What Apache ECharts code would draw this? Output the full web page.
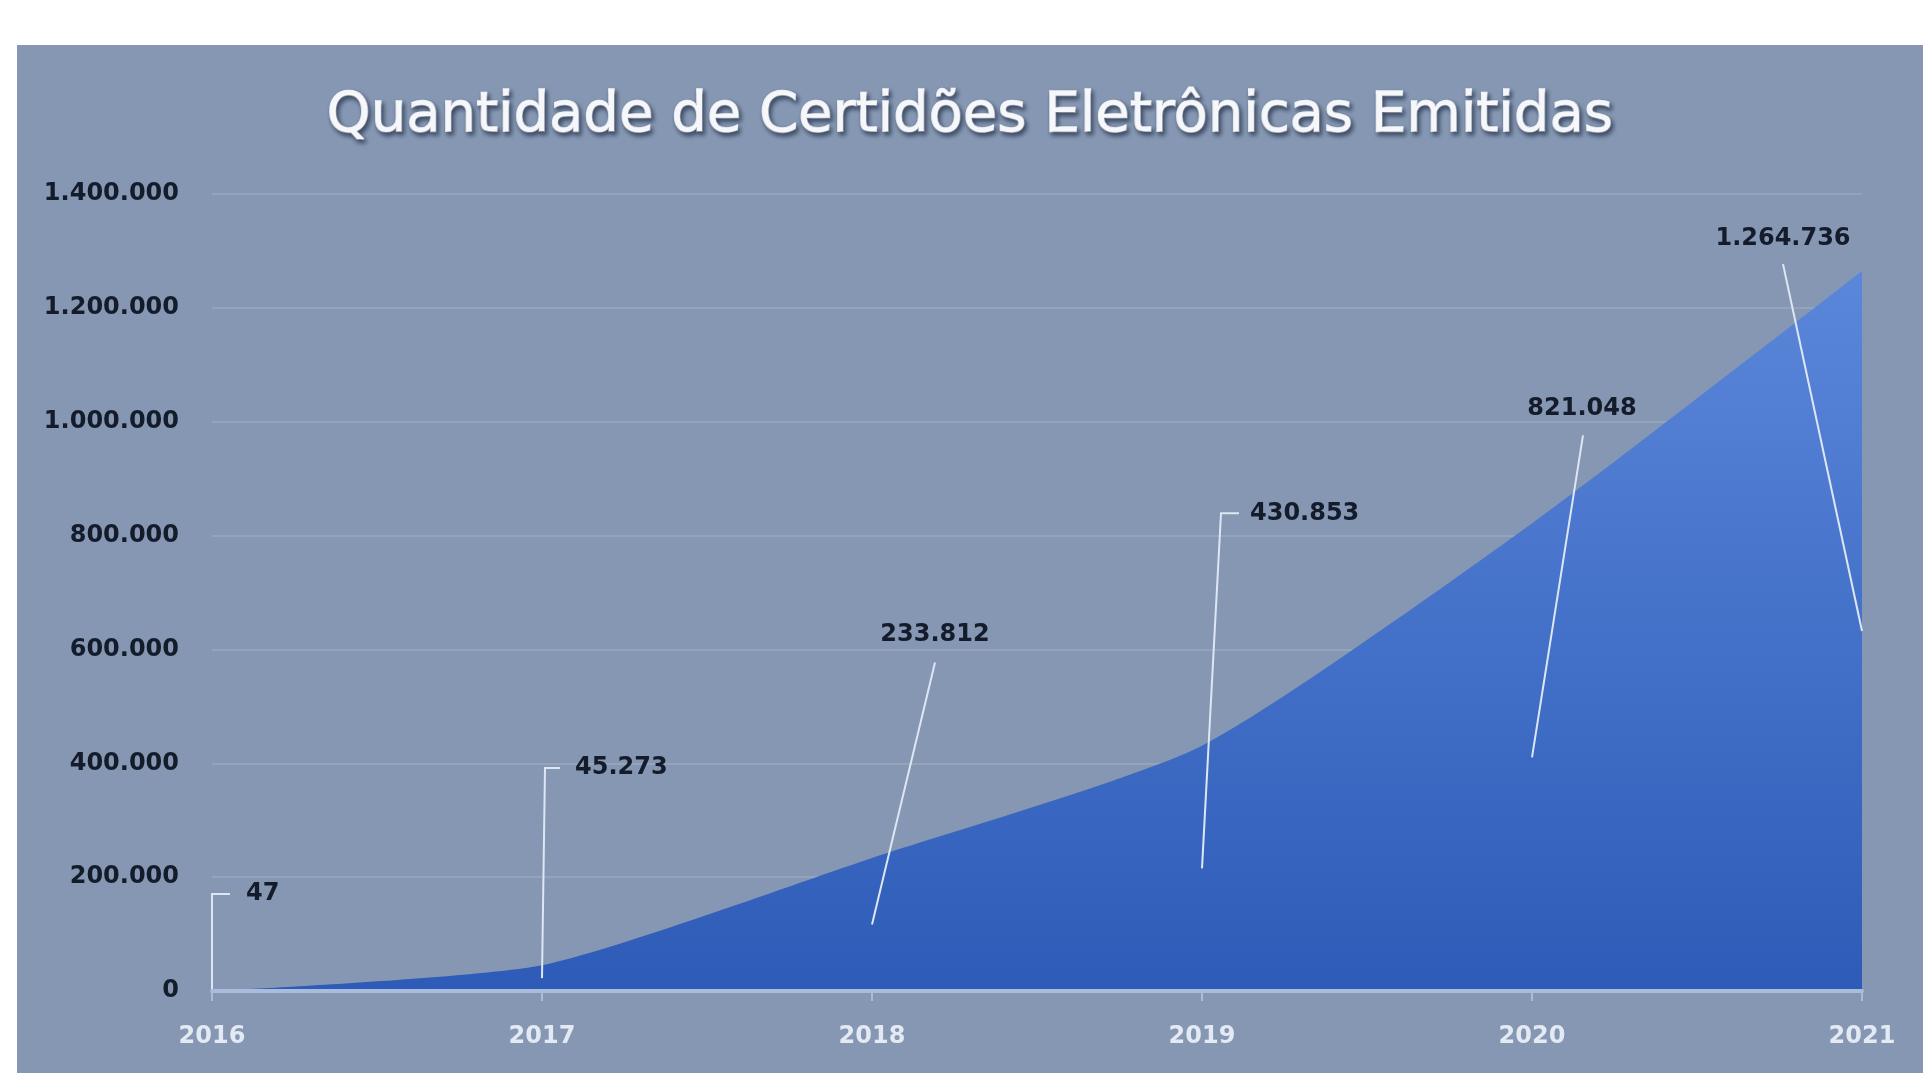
<!DOCTYPE html>
<html>
<head>
<meta charset="utf-8">
<title>Quantidade de Certidões Eletrônicas Emitidas</title>
<script src="https://cdn.jsdelivr.net/npm/echarts@6/dist/echarts.min.js"></script>
<style>
  html, body { margin: 0; padding: 0; background: #ffffff; }
  #chart { position: absolute; left: 17px; top: 45px; width: 1906px; height: 1028px; background: #8597b2; }
</style>
</head>
<body>
<div id="chart"></div>
<script>
// dados
const anos = ["2016", "2017", "2018", "2019", "2020", "2021"];
const certidoes = [47, 45273, 233812, 430853, 821048, 1264736];
const yTicks = [0, 200000, 400000, 600000, 800000, 1000000, 1200000, 1400000];

// posição das chamadas (px, a partir do meio da área de cada ano)
const chamadas = [
  { linha: [[0, -97], [18, -97]], texto: [34, -97], align: "left" },
  { linha: [[3, -210], [18, -210]], texto: [33, -210], align: "left" },
  { linha: [[63, -262]], texto: [63, -290], align: "center" },
  { linha: [[19, -355], [37, -355]], texto: [48, -355], align: "left" },
  { linha: [[51, -322]], texto: [50, -349], align: "center" },
  { linha: [[-79, -367]], texto: [-79, -392], align: "center" }
];

// 1264736 -> 1.264.736
function fmt(v) {
  return String(v).replace(/\B(?=(\d{3})+(?!\d))/g, ".");
}

const chart = echarts.init(document.getElementById("chart"));

const option = {
  animation: false,
  textStyle: { fontFamily: "DejaVu Sans" },
  title: {
    text: "Quantidade de Certidões Eletrônicas Emitidas",
    left: "center",
    top: 38,
    textStyle: {
      color: "#f5f7fb",
      fontSize: 56,
      fontWeight: "normal",
      fontFamily: "DejaVu Sans",
      textBorderColor: "#f5f7fb",
      textBorderWidth: 1.5,
      textShadowColor: "rgba(25,35,60,0.65)",
      textShadowBlur: 4,
      textShadowOffsetX: 2,
      textShadowOffsetY: 3
    }
  },
  grid: {
    left: 195,
    right: 61,
    top: 149,
    bottom: 82
  },
  xAxis: {
    type: "category",
    data: anos,
    boundaryGap: false,
    z: 5,
    axisLine: { lineStyle: { color: "#a9bcdc", width: 4 } },
    axisTick: { show: true, length: 10, lineStyle: { color: "#a9bcdc", width: 2 } },
    axisLabel: {
      color: "#e4eaf3",
      fontSize: 24,
      fontWeight: "bold",
      fontFamily: "DejaVu Sans",
      margin: 34
    }
  },
  yAxis: {
    type: "value",
    min: yTicks[0],
    max: yTicks[yTicks.length - 1],
    interval: yTicks[1] - yTicks[0],
    axisLine: { show: false },
    axisTick: { show: false },
    splitLine: { lineStyle: { color: "rgba(255,255,255,0.13)", width: 2 } },
    axisLabel: {
      color: "#141b2b",
      fontSize: 24,
      fontWeight: "bold",
      fontFamily: "DejaVu Sans",
      margin: 33,
      formatter: v => fmt(v)
    }
  },
  series: [
    {
      name: "Certidões",
      type: "line",
      data: certidoes,
      smooth: 0.2,
      symbol: "none",
      lineStyle: { width: 0 },
      areaStyle: {
        opacity: 1,
        color: new echarts.graphic.LinearGradient(0, 0, 0, 1, [
          { offset: 0, color: "#5b87da" },
          { offset: 1, color: "#2d5bb7" }
        ])
      },
      z: 2
    },
    {
      // rótulos com linha de chamada
      type: "custom",
      clip: false,
      z: 4,
      data: anos.map((a, i) => [a, certidoes[i]]),
      renderItem(params, api) {
        const c = chamadas[params.dataIndex];
        const p = api.coord([api.value(0), api.value(1) / 2]);
        const pts = [p].concat(c.linha.map(d => [p[0] + d[0], p[1] + d[1]]));
        return {
          type: "group",
          children: [
            {
              type: "polyline",
              shape: { points: pts },
              style: { stroke: "#dde6f3", lineWidth: 2, fill: "none" }
            },
            {
              type: "text",
              style: {
                text: fmt(api.value(1)),
                x: p[0] + c.texto[0],
                y: p[1] + c.texto[1],
                align: c.align,
                verticalAlign: "middle",
                fill: "#141b2b",
                font: "bold 24px 'DejaVu Sans'"
              }
            }
          ]
        };
      }
    }
  ]
};

chart.setOption(option);
</script>
</body>
</html>
